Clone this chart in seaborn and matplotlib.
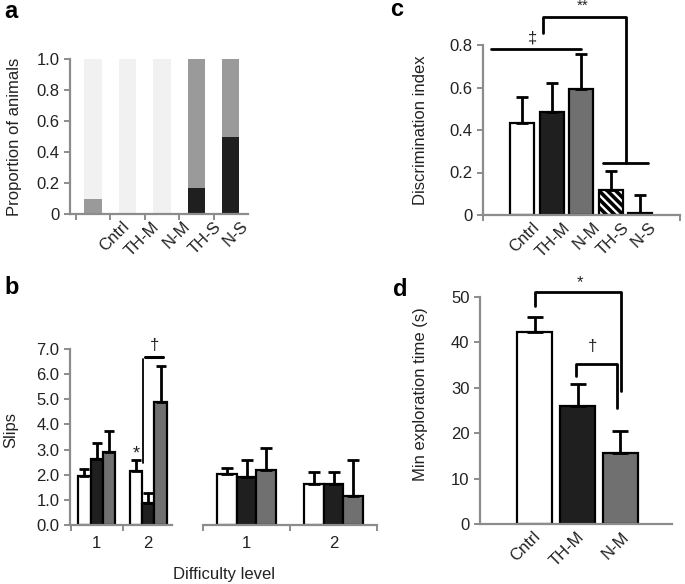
import numpy as np
import pandas as pd
import seaborn as sns
import matplotlib.pyplot as plt

sns.set_theme(style='ticks')
plt.rcParams['font.family'] = ['Liberation Sans', 'DejaVu Sans']
plt.rcParams['hatch.linewidth'] = 2.6

# panel a: proportion of animals
a_groups = ['Cntrl', 'TH-M', 'N-M', 'TH-S', 'N-S']
a_light = [1.0, 1.0, 1.0, 1.0, 1.0]
a_gray = [0.10, 0.0, 0.0, 1.0, 1.0]
a_black = [0.0, 0.0, 0.0, 0.17, 0.50]

# panel b: slips per difficulty level (two blocks)
b_levels = ['1', '2']
b_groups = ['Cntrl', 'TH-M', 'N-M']
b1_mean = {'Cntrl': [1.95, 2.15], 'TH-M': [2.61, 0.89], 'N-M': [2.89, 4.91]}
b1_err = {'Cntrl': [0.28, 0.44], 'TH-M': [0.67, 0.37], 'N-M': [0.85, 1.42]}
b2_mean = {'Cntrl': [2.02, 1.65], 'TH-M': [1.92, 1.65], 'N-M': [2.19, 1.16]}
b2_err = {'Cntrl': [0.26, 0.47], 'TH-M': [0.67, 0.47], 'N-M': [0.86, 1.44]}

# panel c: discrimination index
c_groups = ['Cntrl', 'TH-M', 'N-M', 'TH-S', 'N-S']
c_mean = [0.431, 0.485, 0.591, 0.118, 0.011]
c_err = [0.126, 0.138, 0.167, 0.091, 0.083]

# panel d: min exploration time
d_groups = ['Cntrl', 'TH-M', 'N-M']
d_mean = [42.3, 25.9, 15.6]
d_err = [3.4, 4.9, 4.8]

W, H = 685, 584
FS = 12
fig = plt.figure(figsize=(W / 100, H / 100), dpi=100)


def rect(l, t, r, b):
    return [l / W, 1 - b / H, (r - l) / W, (b - t) / H]


SP = '#8c8c8c'
TXT = '#222222'
WHITE, BLACK, GRAY = '#ffffff', '#1f1f1f', '#707070'


def style(ax, left=True):
    sns.despine(ax=ax, left=not left)
    for s in ['left', 'bottom']:
        ax.spines[s].set_color(SP)
        ax.spines[s].set_linewidth(1.6)
    ax.tick_params(axis='both', colors=SP, labelcolor=TXT, labelsize=FS,
                   width=1.4, length=4)
    ax.set_xlabel('')
    ax.set_ylabel('')


def rotate(ax, minor):
    for t in ax.get_xticklabels(minor=minor):
        t.set_rotation(45)
        t.set_ha('right')
        t.set_rotation_mode('anchor')


def add_err(ax, container, means, errs, cap):
    xs = [p.get_x() + p.get_width() / 2 for p in container.patches]
    ax.errorbar(xs, means, yerr=[np.zeros(len(errs)), errs], fmt='none',
                ecolor='black', elinewidth=2, capsize=cap, capthick=2, zorder=1)


# ---------------- a ----------------
ax = fig.add_axes(rect(70, 59, 248, 214))
sns.barplot(x=a_groups, y=a_light, color='#f1f1f1', width=0.5, ax=ax,
            saturation=1, linewidth=0)
sns.barplot(x=a_groups, y=a_gray, color='#9a9a9a', width=0.5, ax=ax,
            saturation=1, linewidth=0)
sns.barplot(x=a_groups, y=a_black, color='#1f1f1f', width=0.5, ax=ax,
            saturation=1, linewidth=0)
style(ax)
ax.set_xlim(-0.67, 4.5)
ax.set_ylim(0, 1)
ax.set_yticks([0, 0.2, 0.4, 0.6, 0.8, 1.0], ['0', '0.2', '0.4', '0.6', '0.8', '1.0'])
ax.set_xticks([-0.5, 0.5, 1.5, 2.5, 3.5], [''] * 5)
ax.set_xticks([0.84, 1.71, 2.59, 3.49, 4.27], a_groups, minor=True)
ax.tick_params(axis='x', which='minor', length=0, labelsize=FS, labelcolor=TXT)
rotate(ax, True)
ax.set_ylabel('Proportion of animals', fontsize=FS, color=TXT)
ax.yaxis.set_label_coords(-0.27, 0.5)

# ---------------- b ----------------
for k, (l, r, means, errs, width, cap) in enumerate([
        (70, 172, b1_mean, b1_err, 0.72, 3.5),
        (203, 377, b2_mean, b2_err, 0.68, 4.5)]):
    ax = fig.add_axes(rect(l, 349, r, 525))
    df = pd.DataFrame([(lv, g, means[g][i]) for g in b_groups
                       for i, lv in enumerate(b_levels)],
                      columns=['level', 'group', 'slips'])
    sns.barplot(data=df, x='level', y='slips', hue='group', hue_order=b_groups,
                palette=[WHITE, BLACK, GRAY], width=width, saturation=1,
                edgecolor='black', linewidth=1.6, errorbar=None, legend=False,
                ax=ax)
    for g, cont in zip(b_groups, ax.containers):
        add_err(ax, cont, means[g], errs[g], cap)
    style(ax, left=(k == 0))
    ax.set_ylim(0, 7)
    ax.set_xticks([-0.5, 0.5, 1.5], ['', '', ''])
    ax.set_xticks([0, 1], b_levels, minor=True)
    ax.tick_params(axis='x', which='minor', length=0, labelsize=FS,
                   labelcolor=TXT, pad=8)
    if k == 0:
        ax.set_xlim(-0.52, 1.46)
        ax.set_yticks(np.arange(0, 7.5, 1.0), [f'{v:.1f}' for v in np.arange(0, 7.5, 1.0)])
        ax.set_ylabel('Slips', fontsize=FS, color=TXT)
        ax.yaxis.set_label_coords(-0.51, 0.54)
        wb = ax.containers[0].patches[1]
        tb = ax.containers[1].patches[1]
        nb = ax.containers[2].patches[1]
        ax.text(wb.get_x() + wb.get_width() / 2, 2.5, '*', ha='center',
                va='bottom', fontsize=13, color=TXT)
        xv = tb.get_x() + 0.01
        ax.plot([xv, xv], [2.47, 6.6], color='black', lw=1.3, clip_on=False)
        xr = nb.get_x() + nb.get_width() / 2 + 0.04
        ax.plot([xv + 0.05, xr], [6.69, 6.69], color='black', lw=2.2, clip_on=False)
        ax.text((xv + xr) / 2 + 0.03, 6.85, '\u2020', ha='center', va='bottom',
                fontsize=12, color=TXT)
    else:
        ax.set_xlim(-0.5, 1.5)
        ax.set_yticks([])

fig.text(224 / W, 1 - 574 / H, 'Difficulty level', ha='center', va='center',
         fontsize=FS, color=TXT)

# ---------------- c ----------------
ax = fig.add_axes(rect(483, 45, 680, 215))
sns.barplot(x=c_groups, y=c_mean, hue=c_groups,
            palette=[WHITE, BLACK, GRAY, WHITE, WHITE], width=0.82,
            saturation=1, edgecolor='black', linewidth=1.6, legend=False, ax=ax)
bars = [c.patches[0] for c in ax.containers]
bars[3].set_hatch('\\\\\\\\')
for b, m, e in zip(bars, c_mean, c_err):
    x = b.get_x() + b.get_width() / 2
    ax.errorbar([x], [m], yerr=[[0], [e]], fmt='none', ecolor='black',
                elinewidth=2, capsize=4.5, capthick=2, zorder=1)
style(ax)
ax.set_xlim(-1.34, 5.36)
ax.set_ylim(0, 0.8)
ax.set_yticks([0, 0.2, 0.4, 0.6, 0.8], ['0', '0.2', '0.4', '0.6', '0.8'])
ax.set_xticks([-1.34, 5.36], ['', ''])
ax.set_xticks([0.3, 1.37, 2.37, 3.37, 4.27], c_groups, minor=True)
ax.tick_params(axis='x', which='minor', length=0, labelsize=FS, labelcolor=TXT)
rotate(ax, True)
ax.set_ylabel('Discrimination index', fontsize=FS, color=TXT)
ax.yaxis.set_label_coords(-0.28, 0.5)
ax.plot([-1.07, 1.99], [0.78, 0.78], color='black', lw=2, clip_on=False)
ax.text(0.33, 0.8, '\u2021', ha='center', va='bottom', fontsize=12, color=TXT)
ax.plot([0.70, 0.70, 3.52, 3.52], [0.855, 0.93, 0.93, 0.245], color='black',
        lw=2, clip_on=False)
ax.plot([2.74, 4.27], [0.245, 0.245], color='black', lw=2, clip_on=False)
ax.text(2.06, 0.95, '**', ha='center', va='bottom', fontsize=11, color=TXT)

# ---------------- d ----------------
ax = fig.add_axes(rect(480, 297, 672, 524))
sns.barplot(x=d_groups, y=d_mean, hue=d_groups, palette=[WHITE, BLACK, GRAY],
            width=0.81, saturation=1, edgecolor='black', linewidth=1.6,
            legend=False, ax=ax)
for cont, m, e in zip(ax.containers, d_mean, d_err):
    add_err(ax, cont, [m], [e], 5.5)
style(ax)
ax.set_xlim(-1.27, 3.2)
ax.set_ylim(0, 50)
ax.set_yticks([0, 10, 20, 30, 40, 50])
ax.tick_params(axis='x', length=0)
ax.set_xticks([-0.05, 0.98, 2.02], d_groups)
rotate(ax, False)
ax.set_ylabel('Min exploration time (s)', fontsize=FS, color=TXT)
ax.yaxis.set_label_coords(-0.27, 0.573)
ax.plot([0, 0, 2.01, 2.01], [48, 51, 51, 29.4], color='black', lw=2, clip_on=False)
ax.text(1.06, 51.5, '*', ha='center', va='bottom', fontsize=12, color=TXT)
ax.plot([0.97, 0.97, 1.92, 1.92], [32.6, 35.3, 35.3, 25.5], color='black', lw=2,
        clip_on=False)
ax.text(1.34, 37.5, '\u2020', ha='center', va='bottom', fontsize=12, color=TXT)

# panel letters
for s, x, y in [('a', 4, 11), ('b', 4, 288), ('c', 390, 10), ('d', 393, 290)]:
    fig.text(x / W, 1 - y / H, s, fontsize=17, fontweight='bold', va='center',
             color='black')

fig.savefig('out.png', dpi=100)
